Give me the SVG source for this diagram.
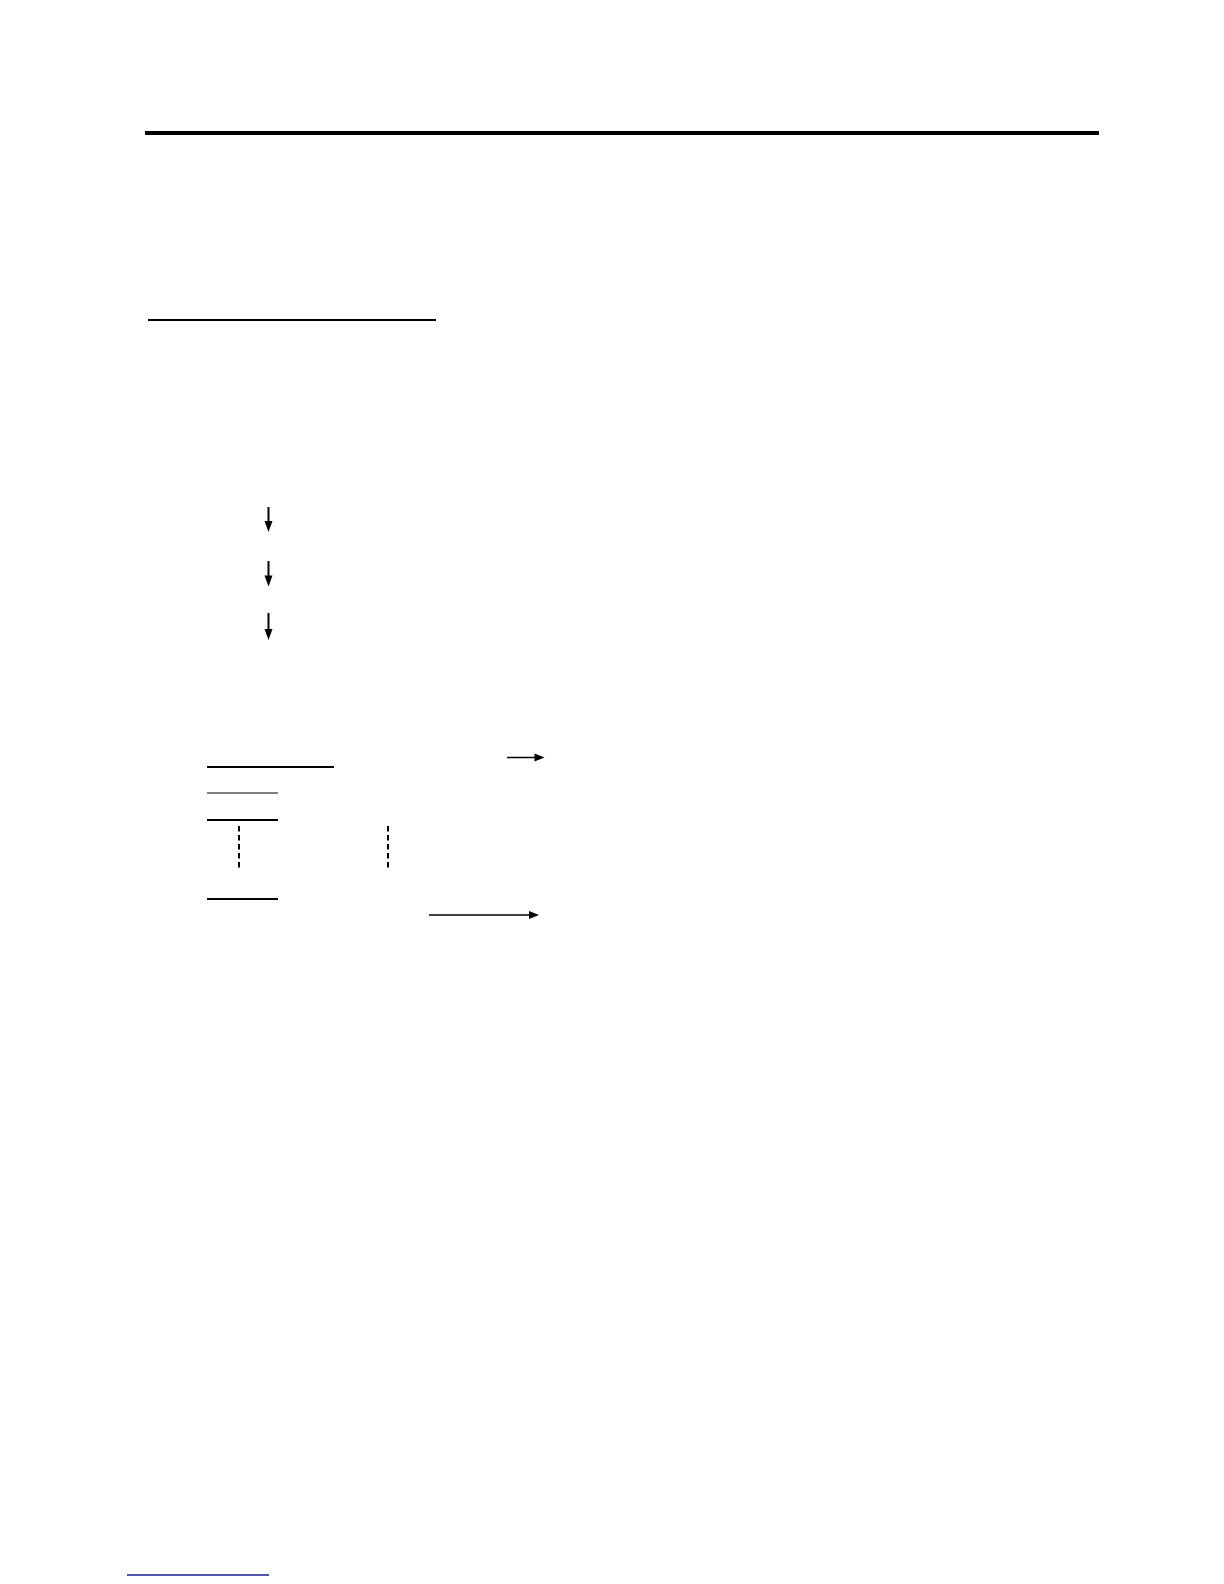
<svg xmlns="http://www.w3.org/2000/svg" width="1224" height="1584" viewBox="0 0 1224 1584">
<style>
.ln{stroke:#000;fill:none}
.hd{fill:#000;stroke:none}
.dash{stroke:#000;stroke-width:2;stroke-dasharray:5.5 3.5;fill:none}
</style>
<rect width="1224" height="1584" fill="#fff"/>
<g id="rules">
<line class="ln" x1="145" y1="133" x2="1099" y2="133" stroke-width="4"/>
<line class="ln" x1="148" y1="320" x2="436" y2="320" stroke-width="2"/>
</g>
<g id="underlines">
<line class="ln" x1="207" y1="767" x2="334" y2="767" stroke-width="2.2"/>
<line class="ln" x1="207" y1="793" x2="278" y2="793" stroke-width="1.2"/>
<line class="ln" x1="207" y1="820" x2="278" y2="820" stroke-width="2"/>
<line class="ln" x1="207" y1="899" x2="278" y2="899" stroke-width="2"/>
</g>
<g id="connectors">
<line class="ln" x1="268.5" y1="507" x2="268.5" y2="523" stroke-width="2"/>
<polygon class="hd" points="264.5,521 272.5,521 268.5,532"/>
<line class="ln" x1="268.5" y1="561" x2="268.5" y2="578" stroke-width="2"/>
<polygon class="hd" points="264.5,575.5 272.5,575.5 268.5,586.5"/>
<line class="ln" x1="268.5" y1="613" x2="268.5" y2="632" stroke-width="2"/>
<polygon class="hd" points="264.5,629 272.5,629 268.5,640"/>
<line class="ln" x1="507" y1="757.5" x2="537" y2="757.5" stroke-width="1.5"/>
<polygon class="hd" points="534.5,753.5 534.5,761.5 544.5,757.5"/>
<line class="ln" x1="429" y1="915" x2="531" y2="915" stroke-width="1.5"/>
<polygon class="hd" points="529,911 529,919 539,915"/>
<line class="dash" x1="239" y1="826" x2="239" y2="869"/>
<line class="dash" x1="388" y1="826" x2="388" y2="869"/>
</g>
<g id="footer">
<line x1="127" y1="1575" x2="269" y2="1575" stroke="#1a1a8c" stroke-width="1.3"/>
</g>
</svg>
